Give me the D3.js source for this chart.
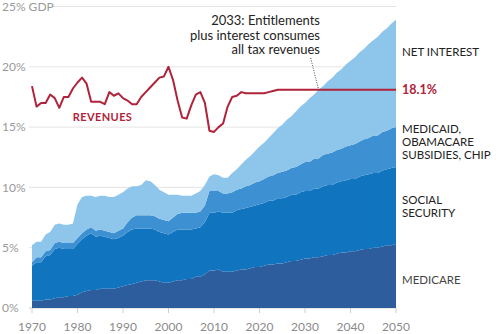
<!DOCTYPE html>
<html><head><meta charset="utf-8">
<script src="https://cdn.jsdelivr.net/npm/d3@7"></script>
<style>body{margin:0;background:#fff}svg{display:block;font-family:Lato,"Open Sans",sans-serif}</style>
</head><body><svg id="c" width="500" height="334"></svg>
<script>
const years=[1970,1971,1972,1973,1974,1975,1976,1977,1978,1979,
1980,1981,1982,1983,1984,1985,1986,1987,1988,1989,
1990,1991,1992,1993,1994,1995,1996,1997,1998,1999,
2000,2001,2002,2003,2004,2005,2006,2007,2008,2009,
2010,2011,2012,2013,2014,2015,2016,2017,2018,2019,
2020,2021,2022,2023,2024,2025,2026,2027,2028,2029,
2030,2031,2032,2033,2034,2035,2036,2037,2038,2039,
2040,2041,2042,2043,2044,2045,2046,2047,2048,2049,2050];
const medicare=[0.6,0.6,0.6,0.7,0.7,0.8,0.9,0.9,1.0,1.0,
1.1,1.3,1.4,1.5,1.5,1.6,1.6,1.6,1.6,1.7,
1.8,1.9,2.0,2.1,2.2,2.3,2.3,2.3,2.2,2.1,
2.1,2.2,2.3,2.3,2.4,2.4,2.6,2.6,2.8,3.1,
3.1,3.2,3.0,3.0,3.0,3.1,3.2,3.2,3.3,3.4,
3.4,3.5,3.6,3.6,3.7,3.7,3.8,3.9,3.9,4.0,
4.1,4.1,4.2,4.2,4.3,4.4,4.4,4.5,4.6,4.6,
4.7,4.7,4.8,4.9,4.9,5.0,5.0,5.1,5.2,5.2,5.3];
const socialSecurity=[2.9,3.2,3.2,3.6,3.7,4.1,4.1,4.0,3.9,3.9,
4.2,4.4,4.6,4.7,4.4,4.4,4.3,4.2,4.1,4.1,
4.2,4.4,4.5,4.5,4.4,4.3,4.3,4.2,4.1,4.1,
4.0,4.1,4.2,4.2,4.1,4.1,4.0,4.1,4.3,4.8,
4.8,4.8,4.9,4.9,4.9,5.0,5.0,5.1,5.1,5.1,
5.2,5.2,5.3,5.3,5.4,5.4,5.4,5.5,5.5,5.6,
5.6,5.6,5.7,5.7,5.8,5.8,5.8,5.9,5.9,6.0,
6.0,6.0,6.1,6.1,6.2,6.2,6.2,6.3,6.3,6.4,6.4];
const medicaid=[0.3,0.4,0.4,0.4,0.4,0.5,0.5,0.5,0.5,0.5,
0.5,0.5,0.5,0.5,0.5,0.5,0.5,0.5,0.5,0.6,
0.6,0.8,1.0,1.1,1.1,1.1,1.1,1.1,1.1,1.1,
1.1,1.2,1.3,1.4,1.4,1.4,1.3,1.3,1.4,1.8,
1.8,1.7,1.6,1.6,1.7,1.7,1.7,1.8,1.8,1.9,
1.9,2.0,2.0,2.1,2.1,2.2,2.2,2.2,2.3,2.3,
2.4,2.4,2.5,2.5,2.6,2.6,2.7,2.7,2.7,2.8,
2.8,2.9,2.9,3.0,3.0,3.1,3.1,3.2,3.2,3.3,3.3];
const netInterest=[1.4,1.3,1.3,1.4,1.5,1.5,1.5,1.5,1.5,1.6,
2.8,3.0,2.8,2.6,2.8,2.8,2.9,2.9,3.0,3.0,
3.0,2.8,2.6,2.4,2.5,2.9,2.8,2.6,2.4,2.3,
2.2,1.9,1.6,1.4,1.4,1.4,1.6,1.7,1.7,1.2,
1.4,1.3,1.3,1.3,1.6,1.7,2.0,2.2,2.4,2.6,
2.9,3.0,3.2,3.5,3.7,3.9,4.2,4.3,4.6,4.8,
4.9,5.3,5.3,5.7,5.7,6.0,6.2,6.4,6.6,6.8,
7.0,7.2,7.4,7.5,7.8,7.9,8.2,8.3,8.5,8.7,8.9];
const revenues=[18.4,16.7,17.0,17.0,17.7,17.4,16.6,17.5,17.5,18.2,
18.7,19.1,18.6,17.1,17.1,17.1,16.9,17.9,17.6,17.8,
17.4,17.2,16.9,16.9,17.5,17.9,18.3,18.7,19.1,19.2,
20.0,18.9,17.2,15.8,15.7,16.8,17.7,17.9,17.0,14.7,
14.6,15.0,15.3,16.7,17.5,17.6,17.9,17.8,17.8,17.8,
17.8,17.8,17.9,18.0,18.1,18.1,18.1,18.1,18.1,18.1,
18.1,18.1,18.1,18.1,18.1,18.1,18.1,18.1,18.1,18.1,
18.1,18.1,18.1,18.1,18.1,18.1,18.1,18.1,18.1,18.1,18.1];
const yTicks=[0,5,10,15,20,25];
const yTickLabels=["0%","5%","10%","15%","20%","25% GDP"];
const xTicks=[1970,1980,1990,2000,2010,2020,2030,2040,2050];
const seriesKeys=["medicare","socialSecurity","medicaid","netInterest"];
const seriesColors=["#2d5d9c","#1174bf","#3d91d2","#8ec5ea"];
const seriesLabels=[["MEDICARE"],["SOCIAL","SECURITY"],["MEDICAID,","OBAMACARE","SUBSIDIES, CHIP"],["NET INTEREST"]];
const seriesLabelY=[280,200,129,52];
const revenueFinalLabel="18.1%";
const annotationYear=2033;
const annotationLines=["2033: Entitlements","plus interest consumes","all tax revenues"];

const svg=d3.select("#c");
const x=d3.scaleLinear().domain([1970,2050]).range([32,396]);
const y=d3.scaleLinear().domain([0,25]).range([308,6.5]);

// grid
svg.append("g").selectAll("line").data(yTicks).join("line")
  .attr("x1",d=>d===25?53:29).attr("x2",396)
  .attr("y1",d=>y(d)).attr("y2",d=>y(d))
  .attr("stroke",d=>d===0?"#cfcfcf":"#e4e4e4").attr("stroke-width",1);
svg.append("g").selectAll("text").data(yTicks).join("text")
  .attr("x",2).attr("y",d=>y(d)).attr("dy","0.36em")
  .attr("fill","#9a9a9a").attr("font-size",12)
  .text((d,i)=>yTickLabels[i]);

// stacked areas
const table=years.map((yr,i)=>({year:yr,medicare:medicare[i],socialSecurity:socialSecurity[i],medicaid:medicaid[i],netInterest:netInterest[i]}));
const stacked=d3.stack().keys(seriesKeys)(table);
const area=d3.area().x(d=>x(d.data.year)).y0(d=>y(d[0])).y1(d=>y(d[1]));
svg.append("g").selectAll("path").data(stacked).join("path")
  .attr("d",area).attr("fill",(d,i)=>seriesColors[i]);

// x axis ticks
svg.append("g").selectAll("line").data(xTicks).join("line")
  .attr("x1",d=>x(d)).attr("x2",d=>x(d)).attr("y1",308).attr("y2",313)
  .attr("stroke","#cccccc");
svg.append("g").selectAll("text").data(xTicks).join("text")
  .attr("x",d=>x(d)).attr("y",327).attr("dy","0.36em").attr("text-anchor","middle")
  .attr("fill","#8a8a8a").attr("font-size",12).text(d=>d);

// revenue line
const line=d3.line().x((d,i)=>x(years[i])).y(d=>y(d));
svg.append("path").datum(revenues).attr("d",line)
  .attr("fill","none").attr("stroke","#b0233a").attr("stroke-width",2).attr("stroke-linejoin","round");
svg.append("text").attr("x",x(1985.5)).attr("y",117).attr("dy","0.36em")
  .attr("text-anchor","middle").attr("fill","#b0233a").attr("font-size",11).attr("font-weight","bold")
  .attr("letter-spacing",0.4).text("REVENUES");

// annotation
const ai=years.indexOf(annotationYear);
svg.append("line").attr("x1",x(annotationYear)-8).attr("y1",58)
  .attr("x2",x(annotationYear)).attr("y2",y(revenues[ai]))
  .attr("stroke","#444").attr("stroke-width",1).attr("stroke-dasharray","1,1.5");
svg.append("g").selectAll("text").data(annotationLines).join("text")
  .attr("x",320).attr("y",(d,i)=>20.5+i*14.5).attr("dy","0.36em")
  .attr("text-anchor","end").attr("fill","#222").attr("font-size",13).text(d=>d);

// right labels
const lab=svg.append("g");
seriesLabels.forEach((lines,i)=>{
  lines.forEach((t,j)=>{
    lab.append("text").attr("x",402).attr("y",seriesLabelY[i]+j*13).attr("dy","0.36em")
      .attr("fill",i===0?"#444":"#222").attr("font-size",11.5).text(t);
  });
});
svg.append("text").attr("x",402).attr("y",y(revenues[revenues.length-1])).attr("dy","0.36em")
  .attr("fill","#b0233a").attr("font-size",12.5).attr("font-weight","bold").text(revenueFinalLabel);
</script></body></html>
